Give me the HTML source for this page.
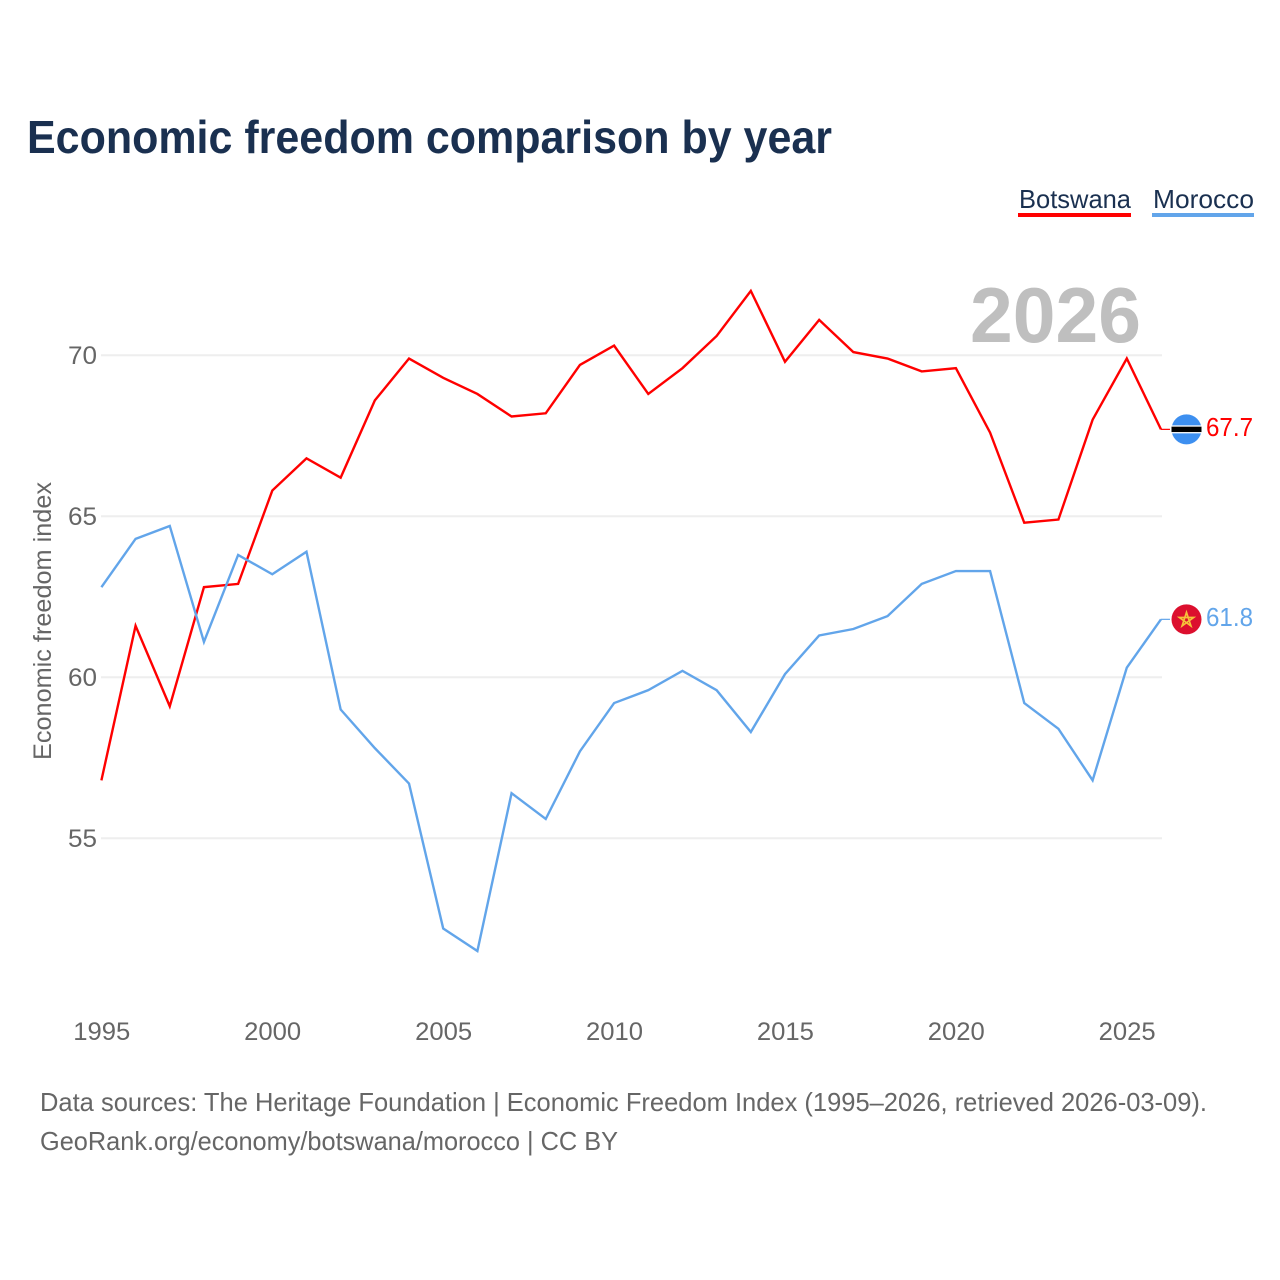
<!DOCTYPE html>
<html lang="en">
<head>
<meta charset="utf-8">
<title>Economic freedom comparison by year</title>
<style>
html,body{margin:0;padding:0;background:#fff;}
#chart{display:block;width:1280px;height:1280px;font-family:"Liberation Sans",sans-serif;}
</style>
</head>
<body>
<svg id="chart" xmlns="http://www.w3.org/2000/svg" width="1280" height="1280" viewBox="0 0 1280 1280">
  <rect x="0" y="0" width="1280" height="1280" fill="#ffffff"/>
  <text x="27" y="153" font-size="46" font-weight="700" fill="#1a3050" textLength="805" lengthAdjust="spacingAndGlyphs">Economic freedom comparison by year</text>

  <g>
    <g>
      <text x="1019" y="208" font-size="26" fill="#1a3050" textLength="112" lengthAdjust="spacingAndGlyphs">Botswana</text>
      <rect x="1018" y="213" width="113" height="4" fill="#ff0000"/>
    </g>
    <g>
      <text x="1153" y="208" font-size="26" fill="#1a3050" textLength="101" lengthAdjust="spacingAndGlyphs">Morocco</text>
      <rect x="1152" y="213" width="102" height="4" fill="#62a5ea"/>
    </g>
  </g>

  <g id="grid"></g>
  <text x="1141" y="342" font-size="78" font-weight="700" fill="#bfbfbf" text-anchor="end" textLength="171" lengthAdjust="spacingAndGlyphs">2026</text>
  <g id="yticks"></g>
  <g id="xticks"></g>
  <text transform="translate(51,760) rotate(-90)" font-size="25" fill="#666666" textLength="278" lengthAdjust="spacingAndGlyphs">Economic freedom index</text>
  <g id="series"></g>
  <g id="ends"></g>

  <g>
    <text x="40" y="1111" font-size="26" fill="#666666" textLength="1167" lengthAdjust="spacingAndGlyphs">Data sources: The Heritage Foundation | Economic Freedom Index (1995–2026, retrieved 2026-03-09).</text>
    <text x="40" y="1150" font-size="26" fill="#666666" textLength="578" lengthAdjust="spacingAndGlyphs">GeoRank.org/economy/botswana/morocco | CC BY</text>
  </g>
</svg>
<script>
const years = [1995,1996,1997,1998,1999,2000,2001,2002,2003,2004,2005,2006,2007,2008,2009,2010,2011,2012,2013,2014,2015,2016,2017,2018,2019,2020,2021,2022,2023,2024,2025,2026];
const botswana = [56.8,61.6,59.1,62.8,62.9,65.8,66.8,66.2,68.6,69.9,69.3,68.8,68.1,68.2,69.7,70.3,68.8,69.6,70.6,72.0,69.8,71.1,70.1,69.9,69.5,69.6,67.6,64.8,64.9,68.0,69.9,67.7];
const morocco = [62.8,64.3,64.7,61.1,63.8,63.2,63.9,59.0,57.8,56.7,52.2,51.5,56.4,55.6,57.7,59.2,59.6,60.2,59.6,58.3,60.1,61.3,61.5,61.9,62.9,63.3,63.3,59.2,58.4,56.8,60.3,61.8];
const yTickValues = [55,60,65,70];
const xTickValues = [1995,2000,2005,2010,2015,2020,2025];

const NS = 'http://www.w3.org/2000/svg';
const xScale = function (year) { return 101.4 + (year - 1995) * 34.18; };
const yScale = function (value) { return 355.3 + (70 - value) * 32.2; };
const make = function (tag, attrs, parent) {
  const el = document.createElementNS(NS, tag);
  for (const k in attrs) el.setAttribute(k, attrs[k]);
  parent.appendChild(el);
  return el;
};

const grid = document.getElementById('grid');
const yticks = document.getElementById('yticks');
yTickValues.forEach(function (v) {
  const line = make('line', {x1: 101, x2: 1162, y1: yScale(v), y2: yScale(v), stroke: '#eeeeee', 'stroke-width': 2}, grid);
  
  
  const t = make('text', {x: 97, y: yScale(v) + 8.5, 'font-size': 25, fill: '#666666', 'text-anchor': 'end', textLength: 29, lengthAdjust: 'spacingAndGlyphs'}, yticks);
  
  
  t.textContent = String(v);
});

const xticks = document.getElementById('xticks');
xTickValues.forEach(function (y) {
  const t = make('text', {x: xScale(y) + 0.4, y: 1040, 'font-size': 25, fill: '#666666', 'text-anchor': 'middle', textLength: 57, lengthAdjust: 'spacingAndGlyphs'}, xticks);
  
  
  t.textContent = String(y);
});

const seriesGroup = document.getElementById('series');
const linePoints = function (values) {
  return values.map(function (v, i) { return xScale(years[i]).toFixed(2) + ',' + yScale(v).toFixed(2); }).join(' ');
};
const lineB = make('polyline', {points: linePoints(botswana), fill: 'none', stroke: '#ff0000', 'stroke-width': 2.4, 'stroke-linejoin': 'miter'}, seriesGroup);


const lineM = make('polyline', {points: linePoints(morocco), fill: 'none', stroke: '#62a5ea', 'stroke-width': 2.4, 'stroke-linejoin': 'miter'}, seriesGroup);



const ends = document.getElementById('ends');
const bVal = botswana[botswana.length - 1];
const mVal = morocco[morocco.length - 1];
const by = yScale(bVal);
const my = yScale(mVal);
const lastX = xScale(years[years.length - 1]);
const fx = 1186.5;

const stubB = make('line', {x1: lastX, x2: lastX + 9, y1: by, y2: by, stroke: '#ff0000', 'stroke-width': 1.2}, ends);


const stubM = make('line', {x1: lastX, x2: lastX + 9, y1: my, y2: my, stroke: '#62a5ea', 'stroke-width': 1.2}, ends);



const flagB = make('g', {}, ends);


make('circle', {cx: fx, cy: by, r: 15, fill: '#3d8ff0'}, flagB);
make('rect', {x: fx - 15, y: by - 4, width: 30, height: 8, fill: '#ffffff'}, flagB);
make('rect', {x: fx - 15, y: by - 2.7, width: 30, height: 5.4, fill: '#000000'}, flagB);

const labelB = make('text', {x: 1206, y: by + 6.5, 'font-size': 25.5, fill: '#ff0000', textLength: 47, lengthAdjust: 'spacingAndGlyphs'}, ends);


labelB.textContent = bVal.toFixed(1);

const flagM = make('g', {}, ends);


make('circle', {cx: fx, cy: my, r: 15, fill: '#dc0f2e'}, flagM);
const starPts = [0, 2, 4, 1, 3].map(function (k) {
  const a = -Math.PI / 2 + k * 2 * Math.PI / 5;
  return (fx + 7.5 * Math.cos(a)).toFixed(2) + ',' + (my + 0.5 + 7.5 * Math.sin(a)).toFixed(2);
}).join(' ');
make('polygon', {points: starPts, fill: 'none', stroke: '#f5c23a', 'stroke-width': 1.7}, flagM);

const labelM = make('text', {x: 1206, y: my + 6.5, 'font-size': 25.5, fill: '#62a5ea', textLength: 47, lengthAdjust: 'spacingAndGlyphs'}, ends);


labelM.textContent = mVal.toFixed(1);
</script>
</body>
</html>
